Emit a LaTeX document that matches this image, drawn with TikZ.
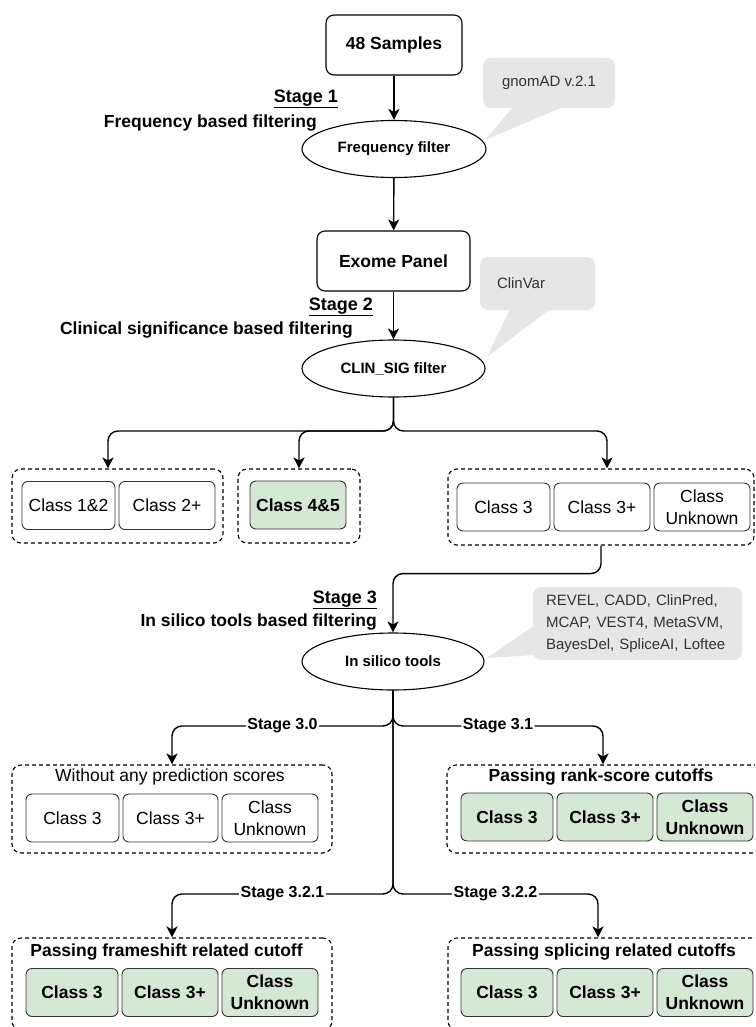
\documentclass[tikz,border=0pt]{standalone}
\usepackage{fontspec}
\setmainfont{Liberation Sans}
\usetikzlibrary{arrows.meta,shapes.geometric}
\definecolor{passgreen}{HTML}{D5E8D4}
\definecolor{notegray}{HTML}{E6E6E6}
\definecolor{edgegray}{HTML}{333333}
\tikzset{
	mainbox/.style={draw, rounded corners=8pt, line width=1.1pt, minimum width=136pt, minimum height=60pt,
			font=\bfseries\fontsize{17.5}{21}\selectfont},
	filterell/.style={ellipse, draw, line width=1.1pt, minimum width=184pt, minimum height=57pt, inner sep=0pt,
			font=\bfseries\fontsize{15}{18}\selectfont},
	classbox/.style={draw=edgegray, rounded corners=6pt, line width=0.9pt, minimum width=96pt, minimum height=48pt,
			inner sep=0pt, align=center, font=\fontsize{17.5}{22}\selectfont},
	passbox/.style={classbox, fill=passgreen, font=\bfseries\fontsize{17.5}{22}\selectfont},
	groupbox/.style={draw, dash pattern=on 4pt off 3pt, rounded corners=9pt, line width=1.1pt},
	grouptitle/.style={inner sep=0pt, font=\fontsize{17.5}{21}\selectfont},
	passtitle/.style={inner sep=0pt, font=\bfseries\fontsize{17.5}{21}\selectfont},
	notebox/.style={fill=notegray, rounded corners=8pt, text=edgegray, font=\fontsize{15}{22}\selectfont},
	stagehead/.style={anchor=east, inner sep=0pt, font=\bfseries\fontsize{18}{22}\selectfont},
	stagetext/.style={anchor=east, inner sep=0pt, font=\bfseries\fontsize{17.5}{21}\selectfont},
	branchlbl/.style={fill=white, inner sep=1.5pt, font=\bfseries\fontsize{16}{19}\selectfont},
	flow/.style={-{Stealth[length=11pt,width=11pt,inset=3pt]}, line width=1.4pt, rounded corners=10pt}
}

\begin{document}
\begin{tikzpicture}[x=1pt,y=-1pt]
	\useasboundingbox (0,0) rectangle (755,1027);
	\clip (0,0) rectangle (755,1027);

	% Stage 1
	\node[mainbox] (samples) at (394,45) {48 Samples};
	\node[filterell] (freq) at (394,149) {Frequency filter};
	\node[stagehead] (st1) at (338,99) {\underline{Stage 1}};
	\node[stagetext] (st1txt) at (317,123) {Frequency based filtering};
	\node[notebox, minimum width=132pt, minimum height=50pt] (gnomad) at (549,83) {gnomAD v.2.1};
	\fill[notegray] (513,107) -- (485,140) -- (563,107) -- cycle;
	\draw[flow] (samples) -- (freq);

	% Stage 2
	\node[mainbox, minimum width=153pt] (exome) at (393.5,261) {Exome Panel};
	\node[filterell, minimum width=183pt] (clin) at (393.5,368.5) {CLIN\_SIG filter};
	\node[stagehead] (st2) at (373,307) {\underline{Stage 2}};
	\node[stagetext] (st2txt) at (353,330) {Clinical significance based filtering};
	\node[notebox, minimum width=115pt, minimum height=53pt, inner xsep=17pt, text width=81pt, align=left] (clinvar) at (537.5,283.5) {ClinVar};
	\fill[notegray] (510,309) -- (487,357) -- (550,309) -- cycle;
	\draw[flow] (freq) -- (exome);
	\draw[flow] (exome) -- (clin);

	% clinical classes
	\node[groupbox, minimum width=211pt, minimum height=74pt] (grpA) at (117.5,506) {};
	\node[classbox, minimum width=93pt] (c12) at (68.5,505.5) {Class 1\&2};
	\node[classbox] (c2p) at (167,505.5) {Class 2+};
	\node[groupbox, minimum width=122pt, minimum height=74pt] (grpB) at (299,506) {};
	\node[passbox] (c45) at (298,505) {Class 4\&5};
	\node[groupbox, minimum width=306pt, minimum height=76pt] (grpC) at (601,507) {};
	\node[classbox, minimum width=93pt] (c3) at (503.5,507) {Class 3};
	\node[classbox] (c3p) at (602,507) {Class 3+};
	\node[classbox] (c3u) at (702,507) {Class\\Unknown};
	\draw[flow] (clin.south) -- (393.5,431) -| ([xshift=-9.5pt]grpA.north);
	\draw[flow] (clin.south) -- (393.5,431) -| (grpB.north);
	\draw[flow] (clin.south) -- (393.5,431) -| ([xshift=6pt]grpC.north);

	% Stage 3
	\node[filterell, minimum width=182pt] (tools) at (393,661.5) {In silico tools};
	\node[stagehead] (st3) at (377,600) {\underline{Stage 3}};
	\node[stagetext] (st3txt) at (377,622) {In silico tools based filtering};
	\node[notebox, minimum width=209pt, minimum height=73pt, text width=183pt, align=left] (tooldb) at (637.5,623.5)
		{REVEL, CADD, ClinPred,\\MCAP, VEST4, MetaSVM,\\BayesDel, SpliceAI, Loftee};
	\fill[notegray] (535,625) -- (487,658) -- (535,655) -- cycle;
	\draw[flow] (grpC.south) -- ++(0,28) -| (tools.north);

	% Stage 3.0 and 3.1
	\node[groupbox, minimum width=320pt, minimum height=88pt] (grp30) at (172,809) {};
	\node[grouptitle] (t30) at (170,777) {Without any prediction scores};
	\node[classbox, minimum width=93pt] (a3) at (72.5,818) {Class 3};
	\node[classbox, minimum width=95pt] (a3p) at (170.5,818) {Class 3+};
	\node[classbox] (a3u) at (270,818) {Class\\Unknown};

	\node[groupbox, minimum width=320pt, minimum height=88pt] (grp31) at (607,809) {};
	\node[passtitle] (t31) at (601,777) {Passing rank-score cutoffs};
	\node[passbox, minimum width=92pt] (b3) at (507,817) {Class 3};
	\node[passbox] (b3p) at (605,817) {Class 3+};
	\node[passbox] (b3u) at (705,817) {Class\\Unknown};

	\draw[flow] (tools.south) -- (393,726) -| node[branchlbl, pos=0.25] (lb30) {Stage 3.0} (grp30.north);
	\draw[flow] (tools.south) -- (393,726) -| node[branchlbl, pos=0.25] (lb31) {Stage 3.1} ([xshift=-4pt]grp31.north);

	% Stage 3.2.1 and 3.2.2
	\node[groupbox, minimum width=320pt, minimum height=92pt] (grp321) at (172,984) {};
	\node[passtitle] (t321) at (166.5,952) {Passing frameshift related cutoff};
	\node[passbox, minimum width=92pt] (d3) at (72,992.5) {Class 3};
	\node[passbox] (d3p) at (170,992.5) {Class 3+};
	\node[passbox] (d3u) at (270,992.5) {Class\\Unknown};

	\node[groupbox, minimum width=320pt, minimum height=92pt] (grp322) at (608,984) {};
	\node[passtitle] (t322) at (604,952) {Passing splicing related cutoffs};
	\node[passbox, minimum width=92pt] (e3) at (507,992.5) {Class 3};
	\node[passbox] (e3p) at (605,992.5) {Class 3+};
	\node[passbox] (e3u) at (705,992.5) {Class\\Unknown};

	\draw[flow] (tools.south) -- (393,894) -| node[branchlbl, pos=0.25] (lb321) {Stage 3.2.1} (grp321.north);
	\draw[flow] (tools.south) -- (393,894) -| node[branchlbl, pos=0.25] (lb322) {Stage 3.2.2} ([xshift=-10pt]grp322.north);
\end{tikzpicture}
\end{document}
